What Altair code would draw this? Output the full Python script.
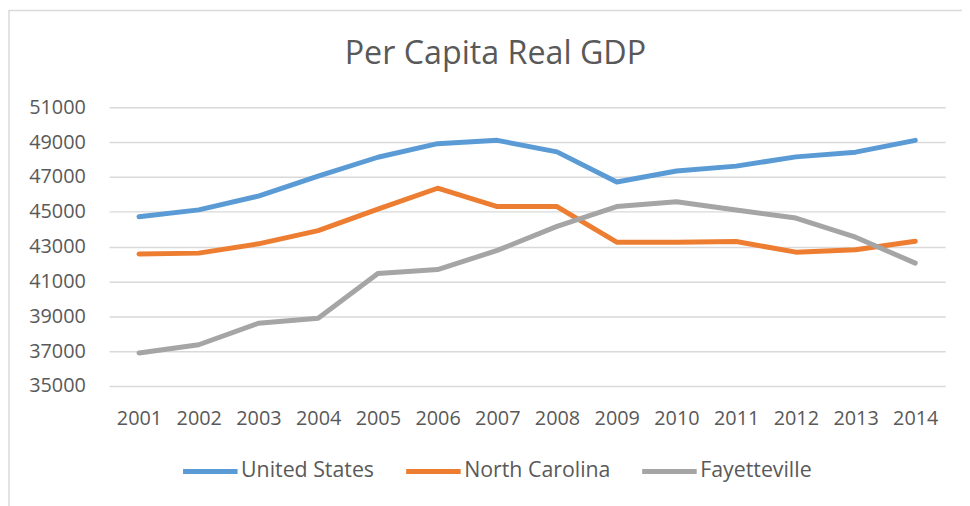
import altair as alt
import pandas as pd

years = [str(y) for y in range(2001, 2015)]
series_names = ["United States", "North Carolina", "Fayetteville"]
united_states = [44715, 45110, 45900, 47050, 48130, 48910, 49100,
                 48440, 46710, 47340, 47620, 48150, 48420, 49100]
north_carolina = [42570, 42625, 43160, 43920, 45150, 46350, 45300,
                  45300, 43250, 43250, 43290, 42680, 42815, 43310]
fayetteville = [36890, 37365, 38600, 38890, 41450, 41680, 42780,
                44160, 45300, 45570, 45100, 44640, 43540, 42050]
colors = ["#5B9BD5", "#ED7D31", "#A5A5A5"]
y_ticks = list(range(35000, 51001, 2000))
title_text = ["Per Capita Real GDP"]

rows = []
for name, vals in zip(series_names, [united_states, north_carolina, fayetteville]):
    for yr, v in zip(years, vals):
        rows.append({"Year": yr, "Value": v, "Series": name})
df = pd.DataFrame(rows)

FONT = "Open Sans"
GREY = "#595959"

W, H = 843, 281
PAD_L, PAD_T, PAD_R = 102, 98, 17
PAD_B = 498 - PAD_T - H

lines = alt.Chart(df).mark_line(strokeWidth=5, strokeCap="round", strokeJoin="round").encode(
    x=alt.X("Year:O", sort=years,
            scale=alt.Scale(type="point", padding=0.5),
            axis=alt.Axis(title=None, labelAngle=0, domain=False, ticks=False, grid=False,
                          labelFont=FONT, labelFontSize=20, labelColor=GREY, labelPadding=23)),
    y=alt.Y("Value:Q", scale=alt.Scale(domain=[35000, 51000], nice=False, zero=False),
            axis=alt.Axis(title=None, values=y_ticks, format="d", domain=False, ticks=False,
                          grid=True, gridColor="#D9D9D9", gridWidth=1.5,
                          labelFont=FONT, labelFontSize=20, labelColor=GREY, labelPadding=24)),
    color=alt.Color("Series:N", sort=series_names,
                    scale=alt.Scale(domain=series_names, range=colors),
                    legend=alt.Legend(title=None, orient="none", direction="horizontal",
                                      legendX=72, legendY=337,
                                      symbolType="stroke", symbolStrokeWidth=5,
                                      symbolSize=3025, labelFont=FONT, labelFontSize=21.5,
                                      labelColor=GREY, labelOffset=1, columnPadding=21)),
)

border = alt.Chart(pd.DataFrame({"a": [0]})).mark_rect(
    fill=None, stroke="#D9D9D9", strokeWidth=1.5
).encode(
    x=alt.value(-PAD_L + 1), x2=alt.value(W + PAD_R + 40),
    y=alt.value(-PAD_T + 0.5), y2=alt.value(H + PAD_B + 40),
)

title = alt.Chart(pd.DataFrame({"t": title_text})).mark_text(
    font=FONT, fontSize=32.5, color=GREY, align="center", baseline="alphabetic"
).encode(
    text="t:N", x=alt.value(389.5), y=alt.value(-44),
)

chart = alt.layer(border, lines, title).properties(
    width=W, height=H,
    autosize=alt.AutoSizeParams(type="none"),
    padding={"left": PAD_L, "top": PAD_T, "right": PAD_R, "bottom": PAD_B},
).configure_view(stroke=None)

chart.save("out.html", embed_options={"renderer": "svg", "actions": False})
